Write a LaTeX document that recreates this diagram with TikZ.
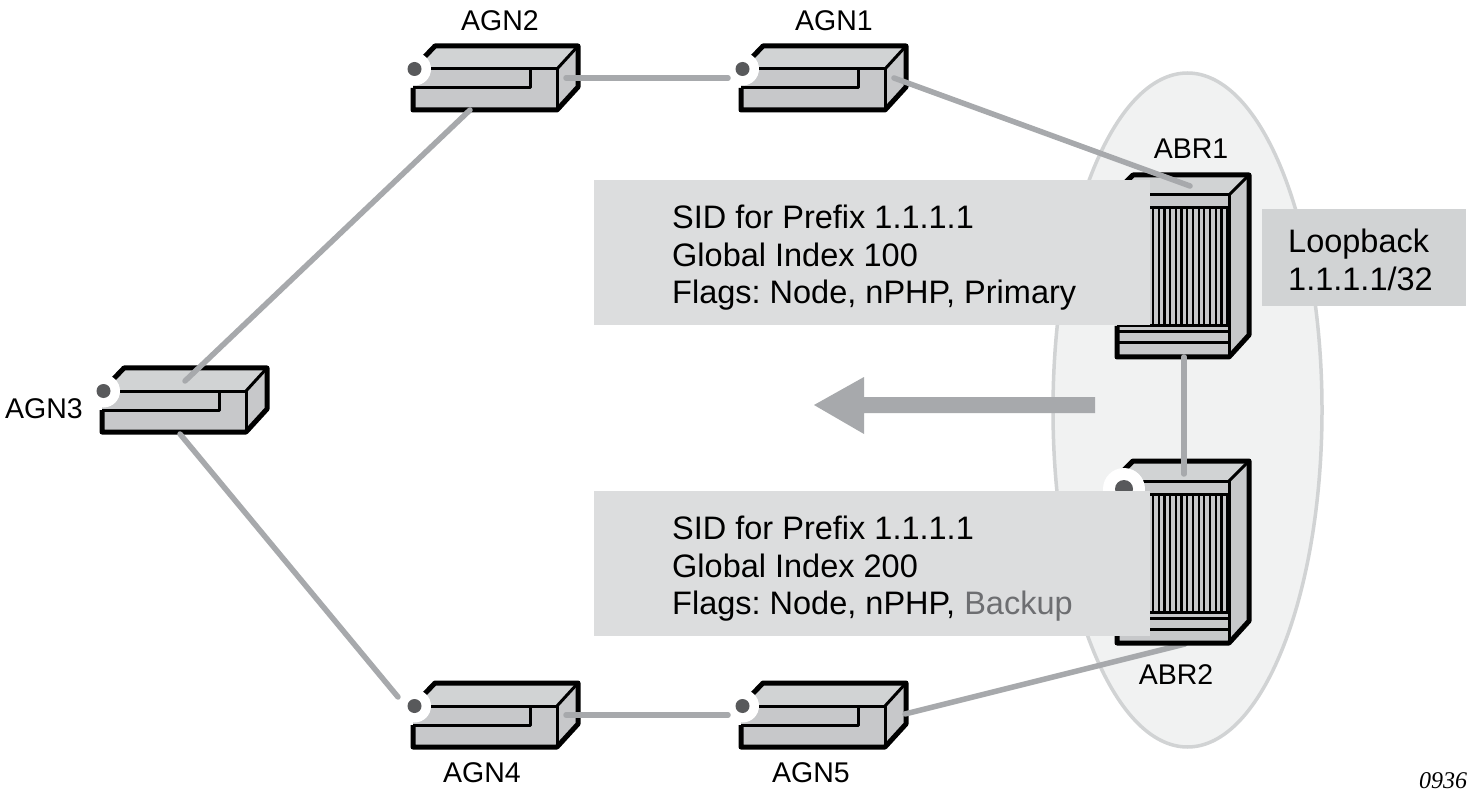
\documentclass[tikz,border=0pt]{standalone}
\usepackage{fontspec}
\setmainfont{Liberation Sans}
\newfontfamily\tagfont[Scale=1]{Liberation Serif}
\frenchspacing
\definecolor{linkgray}{HTML}{A7A9AC}
\definecolor{facegray}{HTML}{C7C8CA}
\definecolor{topgray}{HTML}{D1D3D4}
\definecolor{boxgray}{HTML}{DCDDDE}
\definecolor{ellfill}{HTML}{F1F2F2}
\definecolor{dotgray}{HTML}{58595B}
\definecolor{backup}{HTML}{6D6E71}
\tikzset{
  x=1pt,y=-1pt,
  outline/.style={draw=black,line width=5pt,line join=round},
  inner/.style={draw=black,line width=3pt,line join=round},
  link/.style={draw=linkgray,line width=5.5pt,line cap=round},
  lbl/.style={font=\fontsize{28.5}{32}\selectfont,inner sep=0pt},
  infobox/.style={fill=boxgray,draw=none},
  infotext/.style={font=\fontsize{32.5}{37.5}\selectfont,align=left,anchor=north west,inner sep=0pt}
}
% small device: origin = bottom-left corner of the front face
\newcommand{\agndev}[3]{%
\begin{scope}[shift={(#2,#3)}]
  \fill[facegray] (0,0) -- (144,0) -- (165,-23) -- (165,-64) -- (22,-64) -- (0,-41) -- cycle;
  \fill[topgray] (22,-64) -- (165,-64) -- (144,-41) -- (0,-41) -- cycle;
  \path[inner] (0,-41) -- (144,-41) -- (144,0);
  \path[inner] (144,-41) -- (165,-64);
  \path[inner] (0,-41) -- (117,-41) -- (117,-22) -- (0,-22);
  \path[outline] (0,-22) -- (0,0) -- (144,0) -- (165,-23) -- (165,-64) -- (22,-64) -- (0,-41);
  \fill[white] (1.5,-41) circle[radius=16.5];
  \fill[dotgray] (1.5,-41) circle[radius=7];
  \coordinate (#1-r) at (153,-32);
  \coordinate (#1-l) at (-13,-32);
  \coordinate (#1-b) at (57,0);
  \coordinate (#1-out) at (164,-33);
\end{scope}}
% chassis: origin = bottom-left corner of the lower bar
\newcommand{\abrdev}[3]{%
\begin{scope}[shift={(#2,#3)}]
  \fill[facegray] (0,0) -- (112,0) -- (132,-22) -- (132,-182) -- (16,-182) -- (-4,-162) -- (0,-31) -- cycle;
  \fill[topgray] (16,-182) -- (132,-182) -- (112,-162) -- (-4,-162) -- cycle;
  \foreach \k in {0,...,13} {\draw[black,line width=2.2pt] (36+\k*5.7,-149) -- (36+\k*5.7,-31);}
  \path[inner] (-4,-162) -- (112,-162);
  \path[inner] (33,-149) -- (112,-149);
  \path[inner] (112,-162) -- (112,0);
  \path[inner] (112,-162) -- (132,-182);
  \path[inner] (0,-25) -- (112,-25);
  \path[inner] (0,-14) -- (112,-14);
  \path[outline] (0,-31) -- (0,0) -- (112,0) -- (132,-22) -- (132,-182) -- (16,-182) -- (-2,-164);
  \path[inner] (0,-31) -- (112,-31);
  \fill[white] (7,-154) circle[radius=21];
  \fill[dotgray] (7,-154) circle[radius=9];
  \coordinate (#1-top) at (67,-169);
  \coordinate (#1-bot) at (67,0);
  \coordinate (#1-in) at (73,-171);
\end{scope}}
\begin{document}
\begin{tikzpicture}
\useasboundingbox (0,0) rectangle (1473,802);
\fill[white] (0,0) rectangle (1473,802);
% domain ellipse
\draw[fill=ellfill,draw=topgray,line width=3.5pt] (1187.5,410) ellipse[x radius=134.5,y radius=337];
% devices
\agndev{agntwo}{413}{110}
\agndev{agnone}{741}{110}
\agndev{agnthree}{102}{432}
\agndev{agnfour}{413}{747}
\agndev{agnfive}{741}{747}
% connector that runs under the chassis
\coordinate (abrtwo-low) at (1185,644);
\draw[link] (agnfive-out) -- (abrtwo-low);
\abrdev{abrone}{1117}{357}
\abrdev{abrtwo}{1117}{643}
% info boxes
\node[infobox,minimum width=556pt,minimum height=145pt,inner sep=0pt,anchor=north west] (boxone) at (594,180) {};
\node[infobox,minimum width=556pt,minimum height=145pt,inner sep=0pt,anchor=north west] (boxtwo) at (594,491) {};
\node[fill=topgray,minimum width=204pt,minimum height=97pt,inner sep=0pt,anchor=north west] (loop) at (1262,209) {};
% connectors
\coordinate (agnthree-in) at (185,381);
\coordinate (agnthree-low) at (180,434);
\coordinate (agnfour-in) at (398,697);
\draw[link] (agntwo-r) -- (agnone-l);
\draw[link] (agnone-r) -- (abrone-in);
\draw[link] (agntwo-b) -- (agnthree-in);
\draw[link] (agnthree-low) -- (agnfour-in);
\draw[link] (agnfour-r) -- (agnfive-l);
\draw[link] (abrone-bot) -- (abrtwo-top);
% direction arrow
\fill[linkgray] (1095,397) -- (864,397) -- (864,377) -- (814,405) -- (864,434) -- (864,413) -- (1095,413) -- cycle;
% texts
\node[infotext] (textone) at (672,205) {SID for Prefix 1.1.1.1\\Global Index 100\\Flags: Node, nPHP, Primary};
\node[infotext] (texttwo) at (672,516) {SID for Prefix 1.1.1.1\\Global Index 200\\Flags: Node, nPHP, {\color{backup}Backup}};
\node[infotext,anchor=north west] (looptext) at (1288,229) {Loopback\\1.1.1.1/32};
\node[lbl] (l1) at (500,21) {AGN2};
\node[lbl] (l2) at (834,21) {AGN1};
\node[lbl] (l3) at (44,409) {AGN3};
\node[lbl] (l4) at (482,773) {AGN4};
\node[lbl] (l5) at (811,773) {AGN5};
\node[lbl] (l6) at (1191,149) {ABR1};
\node[lbl] (l7) at (1176,675) {ABR2};
\node[inner sep=0pt,font=\tagfont\itshape\fontsize{24}{28}\selectfont] (tag) at (1443,781) {0936};
\end{tikzpicture}
\end{document}
